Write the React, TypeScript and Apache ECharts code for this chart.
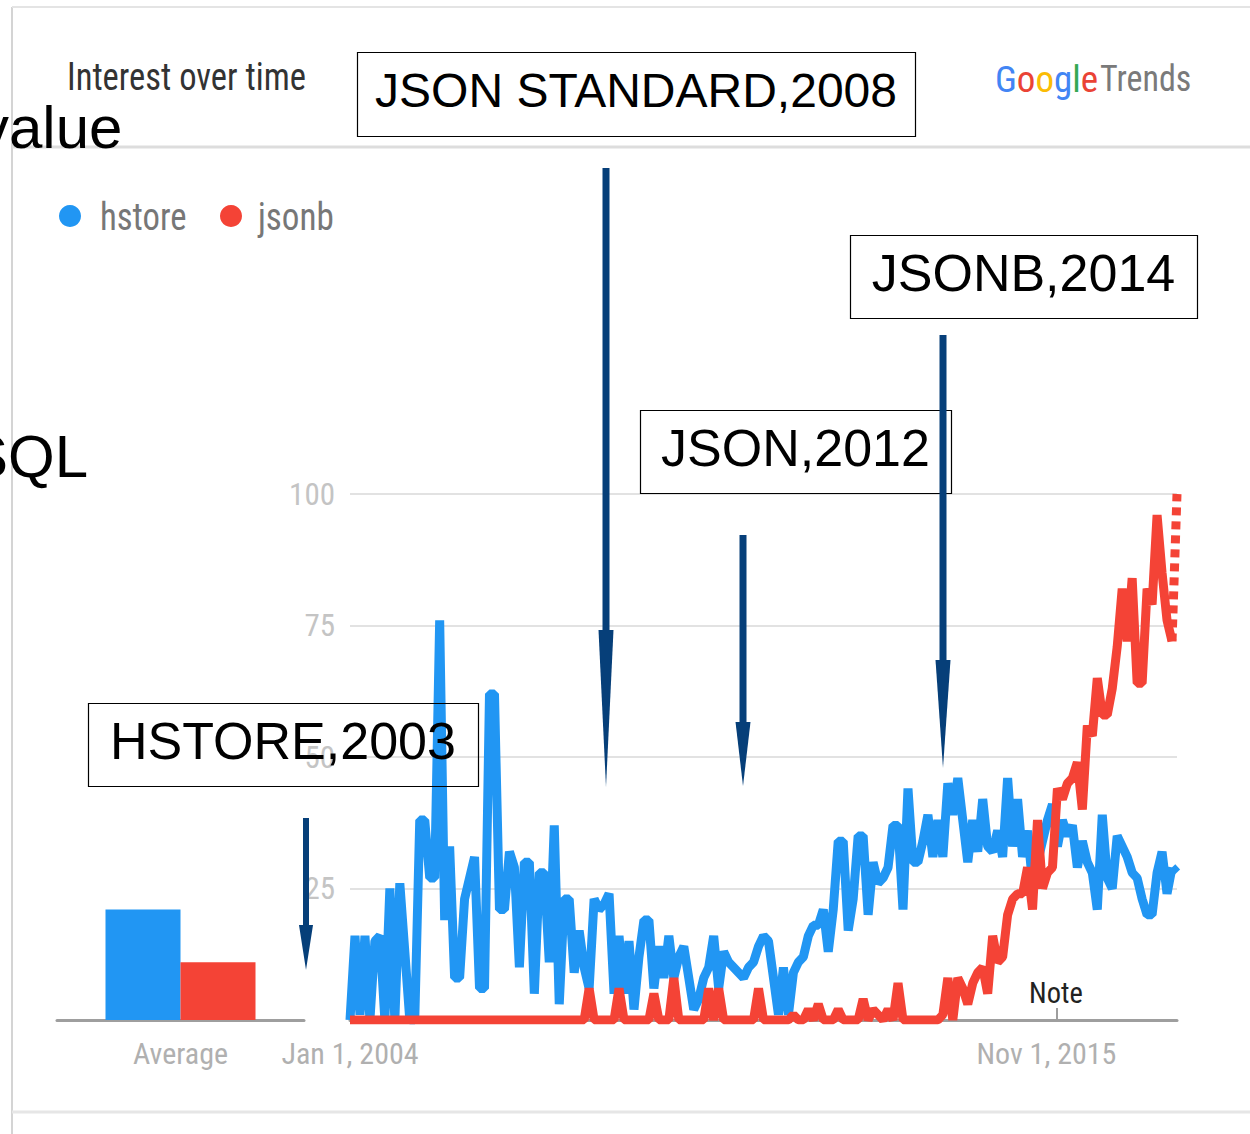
import React, { useEffect, useRef } from "react";
import * as echarts from "echarts";

// ---- data ----
const startYear = 2004;
const monthCount = 167; // Jan 2004 .. Nov 2017
const monthNames = ["Jan", "Feb", "Mar", "Apr", "May", "Jun", "Jul", "Aug", "Sep", "Oct", "Nov", "Dec"];
const categories: string[] = Array.from({ length: monthCount }, (_, i) => {
  const y = startYear + Math.floor(i / 12);
  return `${monthNames[i % 12]} 1, ${y}`;
});
const xTickLabels = ["Jan 1, 2004", "Nov 1, 2015"];

const hstore = [
  0, 16, 1, 16, 0, 15, 16, 0, 25, 0, 26, 13, 0, 0, 38, 38, 27, 27, 76, 19,
  33, 8, 8, 23, 27, 31, 6, 6, 62, 62, 21, 21, 32, 29, 10, 30, 30, 5, 28, 28,
  11, 37, 3, 23, 23, 9, 17, 10, 6, 23, 21, 22, 24, 5, 16, 5, 15, 2, 12, 19,
  19, 6, 14, 8, 16, 8, 12, 14, 8, 2, 4, 8, 10, 16, 6, 13, 11, 10, 9, 8,
  10, 11, 14, 16, 15, 8, 1, 10, 1, 9, 11, 12, 16, 18, 18, 21, 13, 21, 34, 34,
  17, 23, 35, 35, 20, 30, 26, 27, 29, 37, 37, 21, 44, 30, 30, 34, 39, 31, 38, 31,
  45, 39, 46, 38, 30, 38, 32, 42, 33, 32, 36, 31, 46, 33, 42, 31, 36, 26, 30, 34,
  38, 41, 33, 38, 35, 37, 29, 34, 30, 28, 21, 39, 27, 25, 35, 33, 31, 28, 27, 23,
  20, 20, 28, 32, 24, 29, 28,
];
const jsonb = [
  0, 0, 0, 0, 0, 0, 0, 0, 0, 0, 0, 0, 0, 0, 0, 0, 0, 0, 0, 0,
  0, 0, 0, 0, 0, 0, 0, 0, 0, 0, 0, 0, 0, 0, 0, 0, 0, 0, 0, 0,
  0, 0, 0, 0, 0, 0, 0, 0, 6, 0, 0, 0, 0, 0, 6, 0, 0, 0, 0, 0,
  0, 5, 0, 0, 0, 8, 0, 0, 0, 0, 0, 0, 6, 0, 6, 0, 0, 0, 0, 0,
  0, 0, 6, 0, 0, 0, 0, 0, 0, 1, 0, 0, 2, 0, 3, 0, 0, 0, 2, 0,
  0, 0, 0, 4, 0, 2, 1, 0, 2, 0, 7, 0, 0, 0, 0, 0, 0, 0, 0, 1,
  8, 0, 8, 6, 3, 7, 9, 10, 5, 16, 11, 12, 20, 23, 24, 24, 29, 21, 38, 25,
  28, 29, 44, 42, 45, 46, 49, 40, 56, 54, 65, 58, 58, 63, 71, 82, 72, 84, 64, 64,
  82, 79, 96, 85, 76, 72, 100,
];
const averageLabel = ["Average"];
const hstoreAverage = [21];
const jsonbAverage = [11];
const yTicks = { min: 0, max: 100, interval: 25 };

const BLUE = "#2196f3";
const RED = "#f44336";
const NAVY = "#063f79";
const NARROW = "'Liberation Sans Narrow', 'Roboto Condensed', 'DejaVu Sans Condensed', sans-serif";
const ARIAL = "'Liberation Sans', Arial, sans-serif";

function arrow(x: number, top: number, headTop: number, tip: number, shaftW: number, headW: number) {
  return [
    { type: "rect", z: 50, shape: { x: x - shaftW / 2, y: top, width: shaftW, height: headTop - top + 2 }, style: { fill: NAVY } },
    { type: "polygon", z: 50, shape: { points: [[x - headW / 2, headTop], [x + headW / 2, headTop], [x, tip]] }, style: { fill: NAVY } },
  ];
}

function box(x: number, y: number, w: number, h: number, text: string, size: number) {
  return [
    { type: "rect", z: 40, shape: { x: x + 0.5, y: y + 0.5, width: w, height: h }, style: { fill: "none", stroke: "#000", lineWidth: 1.2 } },
    {
      type: "text", z: 41, x: x + w / 2, y: y + h / 2 - 4,
      style: { text, fill: "#000", fontSize: size, fontFamily: ARIAL, textAlign: "center", textVerticalAlign: "middle" },
    },
  ];
}

function condText(x: number, y: number, text: string, size: number, fill: string, sx: number, align = "left") {
  return {
    type: "text", x, y, scaleX: sx, scaleY: 1,
    style: { text, fill, fontSize: size, fontFamily: NARROW, textAlign: align, textVerticalAlign: "middle" },
  };
}

export default function App() {
  const ref = useRef<HTMLDivElement>(null);
  useEffect(() => {
    document.body.style.margin = "0";
    if (!ref.current) return;
    const chart = echarts.init(ref.current, undefined, { renderer: "svg" });
    const last = monthCount - 1;
    const main = (arr: number[]) => arr.map((v, i) => (i < last ? v : null));
    const partial = (arr: number[]) => arr.map((v, i) => (i >= last - 1 ? v : null));
    const googleColors = ["#4285F4", "#EA4335", "#FBBC05", "#4285F4", "#34A853", "#EA4335"];
    const gRich: any = {};
    googleColors.forEach((c, i) => {
      gRich["g" + i] = { fill: c, color: c, fontSize: 37, fontFamily: NARROW };
    });
    const gText = "Google".split("").map((ch, i) => `{g${i}|${ch}}`).join("");

    const option: any = {
      animation: false,
      backgroundColor: "#ffffff",
      grid: [
        { left: 350, top: 494, width: 827, height: 526 },
        { left: 57, top: 494, width: 247, height: 526 },
      ],
      xAxis: [
        {
          type: "category",
          gridIndex: 0,
          data: categories,
          boundaryGap: false,
          axisLine: { lineStyle: { color: "#9e9e9e", width: 3 } },
          axisTick: { show: false },
          splitLine: { show: false },
          axisLabel: {
            interval: (index: number) => index === 0 || index === 142,
            formatter: (_v: string, index: number) =>
              index === 0 ? `{a|${xTickLabels[0]}}` : `{b|${xTickLabels[1]}}`,
            margin: 18,
            rich: {
              a: { fontSize: 30, color: "#b0b0b0", fontFamily: NARROW },
              b: { fontSize: 30, color: "#b0b0b0", fontFamily: NARROW, padding: [0, 22, 0, 0] },
            },
          },
        },
        {
          type: "category",
          gridIndex: 1,
          data: averageLabel,
          axisLine: { lineStyle: { color: "#9e9e9e", width: 3 } },
          axisTick: { show: false },
          axisLabel: { fontSize: 30, color: "#b0b0b0", fontFamily: NARROW, margin: 18 },
        },
      ],
      yAxis: [
        {
          type: "value",
          gridIndex: 0,
          min: yTicks.min,
          max: yTicks.max,
          interval: yTicks.interval,
          axisLine: { show: false },
          axisTick: { show: false },
          splitLine: { lineStyle: { color: "#e2e2e2", width: 2 } },
          axisLabel: {
            formatter: (v: number) => (v === 0 ? "" : String(v)),
            fontSize: 31,
            color: "#c4c4c4",
            fontFamily: NARROW,
            margin: 15,
          },
        },
        {
          type: "value",
          gridIndex: 1,
          min: yTicks.min,
          max: yTicks.max,
          show: false,
          splitLine: { show: false },
        },
      ],
      series: [
        {
          name: "hstore", type: "line", xAxisIndex: 0, yAxisIndex: 0, data: main(hstore),
          symbol: "none", lineStyle: { color: BLUE, width: 9 }, z: 3,
        },
        {
          name: "hstore-partial", type: "line", xAxisIndex: 0, yAxisIndex: 0, data: partial(hstore),
          symbol: "none", lineStyle: { color: BLUE, width: 9, type: [7, 6] }, z: 3,
        },
        {
          name: "jsonb", type: "line", xAxisIndex: 0, yAxisIndex: 0, data: main(jsonb),
          symbol: "none", lineStyle: { color: RED, width: 9 }, z: 4,
        },
        {
          name: "jsonb-partial", type: "line", xAxisIndex: 0, yAxisIndex: 0, data: partial(jsonb),
          symbol: "none", lineStyle: { color: RED, width: 9, type: [8, 6] }, z: 4,
        },
        {
          name: "hstore avg", type: "bar", xAxisIndex: 1, yAxisIndex: 1, data: hstoreAverage,
          barWidth: 75, barGap: "0%", itemStyle: { color: BLUE },
        },
        {
          name: "jsonb avg", type: "bar", xAxisIndex: 1, yAxisIndex: 1, data: jsonbAverage,
          barWidth: 75, barGap: "0%", itemStyle: { color: RED },
        },
      ],
      graphic: [
        { type: "line", shape: { x1: 12, y1: 7, x2: 12, y2: 1134 }, style: { stroke: "#d4d4d4", lineWidth: 2 } },
        { type: "line", shape: { x1: 12, y1: 7, x2: 1250, y2: 7 }, style: { stroke: "#e4e4e4", lineWidth: 2 } },
        { type: "line", shape: { x1: 12, y1: 147, x2: 1250, y2: 147 }, style: { stroke: "#dddddd", lineWidth: 3 } },
        { type: "line", shape: { x1: 12, y1: 1112, x2: 1250, y2: 1112 }, style: { stroke: "#e6e6e6", lineWidth: 3 } },
        condText(67, 77, "Interest over time", 38, "#333333", 0.91),
        { type: "circle", shape: { cx: 70, cy: 216, r: 11 }, style: { fill: BLUE } },
        condText(100, 217, "hstore", 39, "#777777", 0.89),
        { type: "circle", shape: { cx: 231, cy: 216, r: 11 }, style: { fill: RED } },
        condText(258, 217, "jsonb", 39, "#777777", 0.9),
        {
          type: "text", x: 995, y: 79,
          style: { text: gText, rich: gRich, fontSize: 37, fontFamily: NARROW, textVerticalAlign: "middle" },
        },
        condText(1100, 79, "Trends", 37, "#7a7a7a", 0.92),
        {
          type: "text", x: -21, y: 127,
          style: { text: "value", fill: "#000", fontSize: 60, fontFamily: ARIAL, textVerticalAlign: "middle" },
        },
        {
          type: "text", x: -32, y: 456,
          style: { text: "SQL", fill: "#000", fontSize: 60, fontFamily: ARIAL, textVerticalAlign: "middle" },
        },
        ...box(357, 52, 558, 84, "JSON STANDARD,2008", 48),
        ...box(850, 235, 347, 83, "JSONB,2014", 52),
        ...box(640, 410, 311, 83, "JSON,2012", 52),
        ...box(88, 703, 390, 83, "HSTORE,2003", 52),
        ...arrow(306, 818, 925, 970, 6, 14),
        ...arrow(606, 168, 630, 787, 7, 15),
        ...arrow(743, 535, 722, 786, 7, 15),
        ...arrow(943, 335, 660, 768, 7, 15),
        { type: "line", shape: { x1: 1057, y1: 1008, x2: 1057, y2: 1020 }, style: { stroke: "#9e9e9e", lineWidth: 2 } },
        condText(1056, 993, "Note", 30, "#222222", 0.95, "center"),
      ],
    };
    chart.setOption(option);
    return () => chart.dispose();
  }, []);
  return <div ref={ref} style={{ position: "absolute", left: 0, top: 0, width: 1250, height: 1134 }} />;
}
